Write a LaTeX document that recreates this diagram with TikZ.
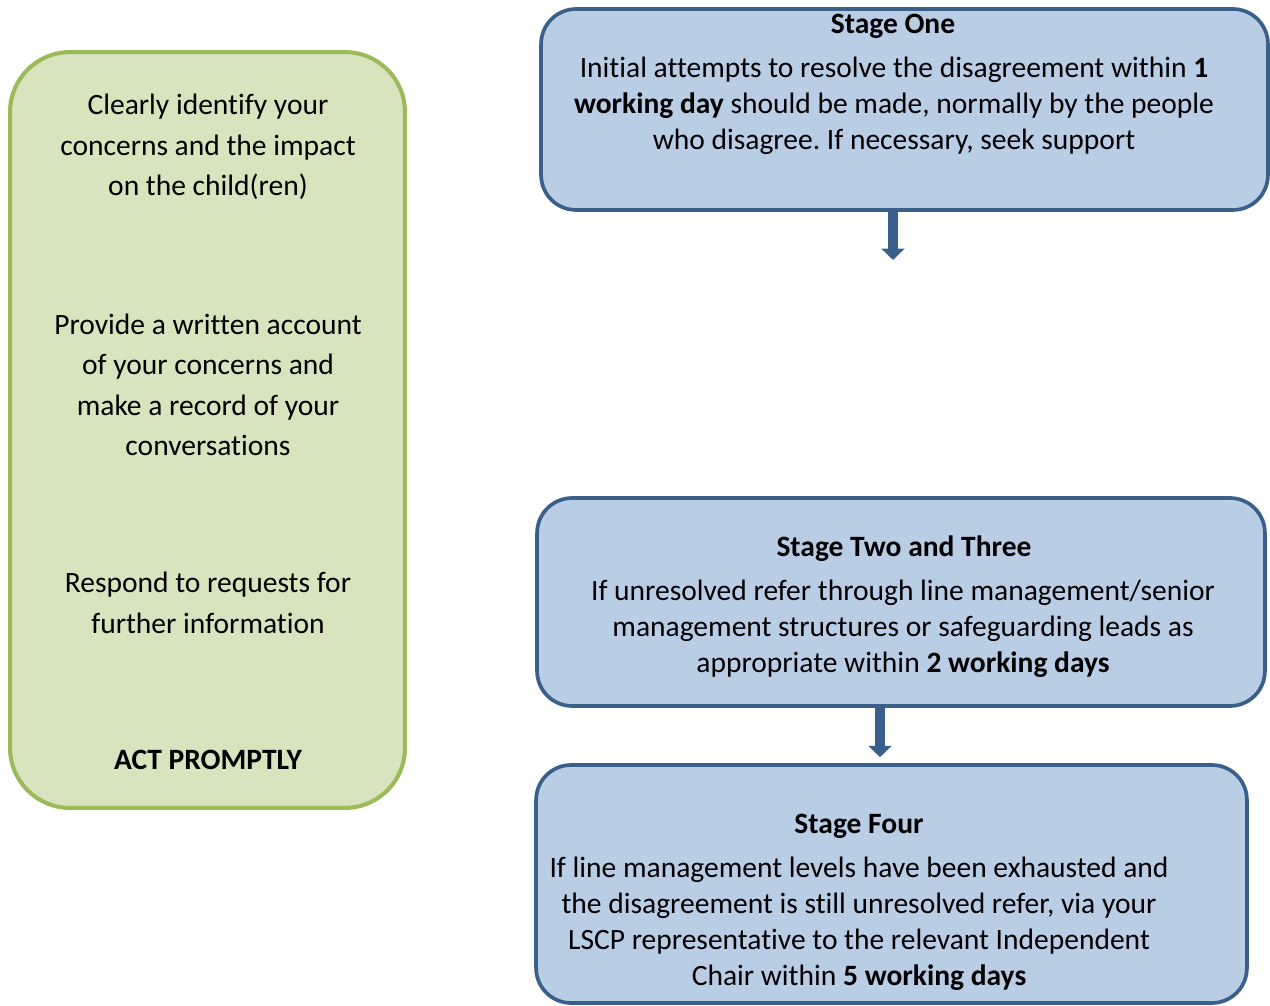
\documentclass[tikz,border=0pt]{standalone}
\usepackage{fontspec}
\setmainfont[Ligatures=NoCommon]{Carlito}
\usetikzlibrary{arrows.meta}
\frenchspacing

\definecolor{adviceFill}{HTML}{D7E4BD}
\definecolor{adviceLine}{HTML}{9BBB59}
\definecolor{stageFill}{HTML}{B9CDE5}
\definecolor{stageLine}{HTML}{3A5F8B}

\tikzset{
  advicebox/.style={draw=adviceLine, fill=adviceFill, line width=2.3pt, rounded corners=1.2cm},
  stagebox/.style={draw=stageLine, fill=stageFill, line width=2.1pt, rounded corners=0.7cm},
  advicetext/.style={align=center, font=\fontsize{16.8}{23}\selectfont},
  stagetext/.style={align=center, font=\fontsize{16.8}{20.4}\selectfont},
  stagetitle/.style={font=\fontsize{16.8}{20.4}\selectfont\bfseries},
  downarrow/.style={draw=stageLine, line width=5.5pt, -{Triangle[width=13pt,length=6.5pt]}}
}

\begin{document}
\begin{tikzpicture}[x=0.02cm, y=-0.02cm]
    \useasboundingbox (0,0) rectangle (1270,1006);

    % Left panel
    \node[advicebox, minimum width=7.9cm, minimum height=15.12cm] (advice) at (207.5,430) {};
    \node[advicetext] (identify) at (208,147) {Clearly identify your\\concerns and the impact\\on the child(ren)};
    \node[advicetext] (record) at (208,385) {Provide a written account\\of your concerns and\\make a record of your\\conversations};
    \node[advicetext] (respond) at (208,603) {Respond to requests for\\further information};
    \node[advicetext, font=\fontsize{16.8}{23}\selectfont\bfseries] (prompt) at (208,760) {ACT PROMPTLY};

    % Stage One
    \node[stagebox, minimum width=14.54cm, minimum height=4.02cm] (stageone) at (904.5,109.5) {};
    \node[stagetitle] (onetitle) at (893,26) {Stage One};
    \node[stagetext] (onebody) at (894,106) {Initial attempts to resolve the disagreement within \textbf{1}\\\textbf{working day} should be made, normally by the people\\who disagree. If necessary, seek support};

    % Stage Two and Three
    \node[stagebox, minimum width=14.56cm, minimum height=4.16cm] (stagetwo) at (901,602) {};
    \node[stagetitle] (twotitle) at (904,549) {Stage Two and Three};
    \node[stagetext] (twobody) at (903,629) {If unresolved refer through line management/senior\\management structures or safeguarding leads as\\appropriate within \textbf{2 working days}};

    % Stage Four
    \node[stagebox, minimum width=14.22cm, minimum height=4.76cm] (stagefour) at (891.5,884) {};
    \node[stagetitle] (fourtitle) at (859,826) {Stage Four};
    \node[stagetext] (fourbody) at (859,924) {If line management levels have been exhausted and\\the disagreement is still unresolved refer, via your\\LSCP representative to the relevant Independent\\Chair within \textbf{5 working days}};

    % Arrows
    \coordinate (onetip) at (893,260);
    \coordinate (twox) at (880,0);
    \draw[downarrow] (stageone.south -| onetip) -- (onetip);
    \draw[downarrow, shorten >=0.12cm] (stagetwo.south -| twox) -- (stagefour.north -| twox);
\end{tikzpicture}
\end{document}
